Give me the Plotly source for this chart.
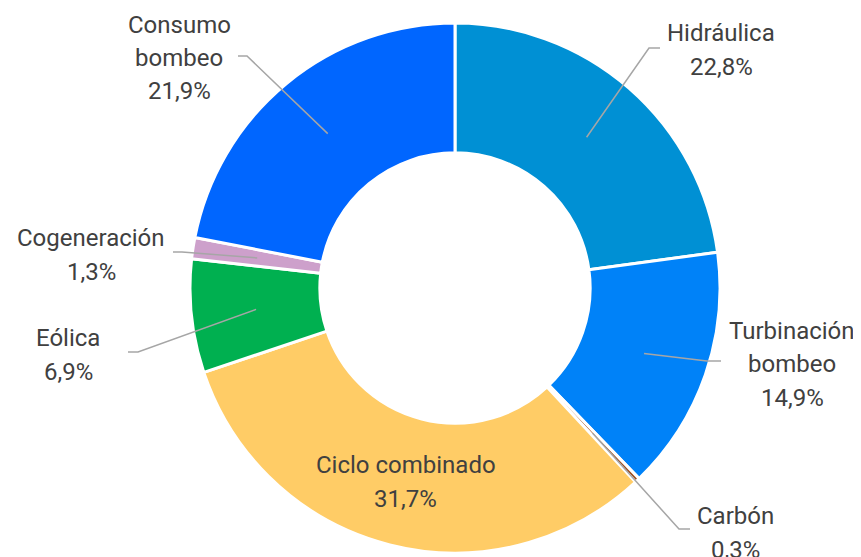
import numpy as np
import plotly.graph_objects as go

# Mix of generation (%), clockwise from 12 o'clock
labels = ["Hidráulica", "Turbinación bombeo", "Carbón", "Ciclo combinado",
          "Eólica", "Cogeneración", "Consumo bombeo"]
text_labels = [["Hidráulica"], ["Turbinación", "bombeo"], ["Carbón"], ["Ciclo combinado"],
               ["Eólica"], ["Cogeneración"], ["Consumo", "bombeo"]]
values = [22.8, 14.9, 0.3, 31.7, 6.9, 1.3, 21.9]
colors = ["#0090D4", "#0082F8", "#9C4A1A", "#FFCC66", "#00B050", "#CDA0CB", "#0066FF"]

OFF = 8  # page body margin
W, H = 861 - OFF, 557 - OFF
cx, cy, R = 455, 288, 265  # pie centre / radius in screen pixels
hole = 0.51
LINE_H = 33.5

# label layout: (elbow x, elbow y, end x, end y, label x, label y) in pixels, None = inside
label_layout = [
    (649, 48, 660, 48, 721, 50),
    (707, 361, 721, 361, 792, 364),
    (679, 529, 690, 529, 735, 533),
    None,
    (138, 352, 128, 352, 68, 355),
    (182, 252, 173, 252, 91, 255),
    (247, 56, 238, 56, 179, 58),
]


def px(x):
    return (x - OFF) / W


def py(y):
    return 1 - (y - OFF) / H


fig = go.Figure(go.Pie(
    labels=labels, values=values, sort=False, direction="clockwise",
    hole=hole, textinfo="none", hoverinfo="label+percent",
    marker=dict(colors=colors, line=dict(color="white", width=3)),
    domain=dict(x=[px(cx - R), px(cx + R)], y=[py(cy + R), py(cy - R)]),
    showlegend=False,
))

font = dict(family="Roboto", size=24, color="#404040")
total = sum(values)
cum = np.cumsum([0] + values[:-1])
r_mid = R * (1 + hole) / 2
for i, v in enumerate(values):
    ang = np.radians((cum[i] + v / 2) / total * 360)
    ax_, ay_ = cx + r_mid * np.sin(ang), cy - r_mid * np.cos(ang)
    lines = text_labels[i] + [f"{v:.1f}%".replace(".", ",")]
    lay = label_layout[i]
    if lay is None:
        lx, ly = ax_, ay_
    else:
        ex, ey, tx, ty, lx, ly = lay
        fig.add_shape(type="path", xref="paper", yref="paper",
                      path=f"M {px(ax_)} {py(ay_)} L {px(ex)} {py(ey)} L {px(tx)} {py(ty)}",
                      line=dict(color="#A6A6A6", width=1.5))
    n = len(lines)
    for k, t in enumerate(lines):
        yk = ly + (k - (n - 1) / 2) * LINE_H
        fig.add_annotation(x=px(lx), y=py(yk), xref="paper", yref="paper",
                           text=t, showarrow=False, font=font,
                           xanchor="center", yanchor="middle")

fig.update_layout(width=W, height=H, margin=dict(l=0, r=0, t=0, b=0),
                  paper_bgcolor="white", plot_bgcolor="white")
fig.write_html("out.html")
